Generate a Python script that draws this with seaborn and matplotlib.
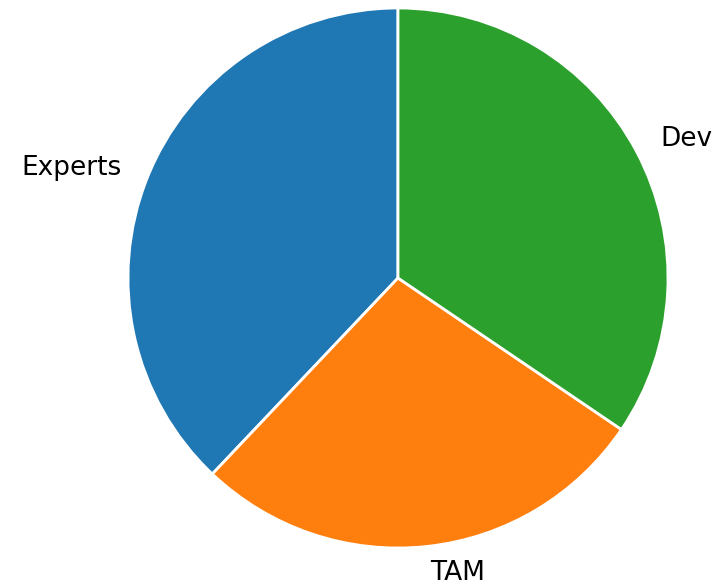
import matplotlib
matplotlib.use("Agg")
import matplotlib.pyplot as plt
import seaborn as sns

labels = ["Experts", "TAM", "Dev"]
counts = [11, 8, 10]

sns.set_theme(style="white")
plt.rcParams["font.family"] = ["DejaVu Sans"]
colors = sns.color_palette("tab10")
slice_colors = [colors[0], colors[1], colors[2]]

fig = plt.figure(figsize=(7.26, 5.86), dpi=100)
ax = fig.add_axes([0, 0, 1, 1])
ax.pie(counts, labels=labels, colors=slice_colors, startangle=90,
       wedgeprops=dict(edgecolor="white", linewidth=2),
       textprops=dict(fontsize=19, color="black"))
# pie centre at (398, 278) px, radius 270 px
s = 270.0
ax.set_aspect("auto")
ax.set_xlim(-398 / s, (726 - 398) / s)
ax.set_ylim(-(586 - 278) / s, 278 / s)
ax.axis("off")
fig.savefig("out.png", dpi=100)
